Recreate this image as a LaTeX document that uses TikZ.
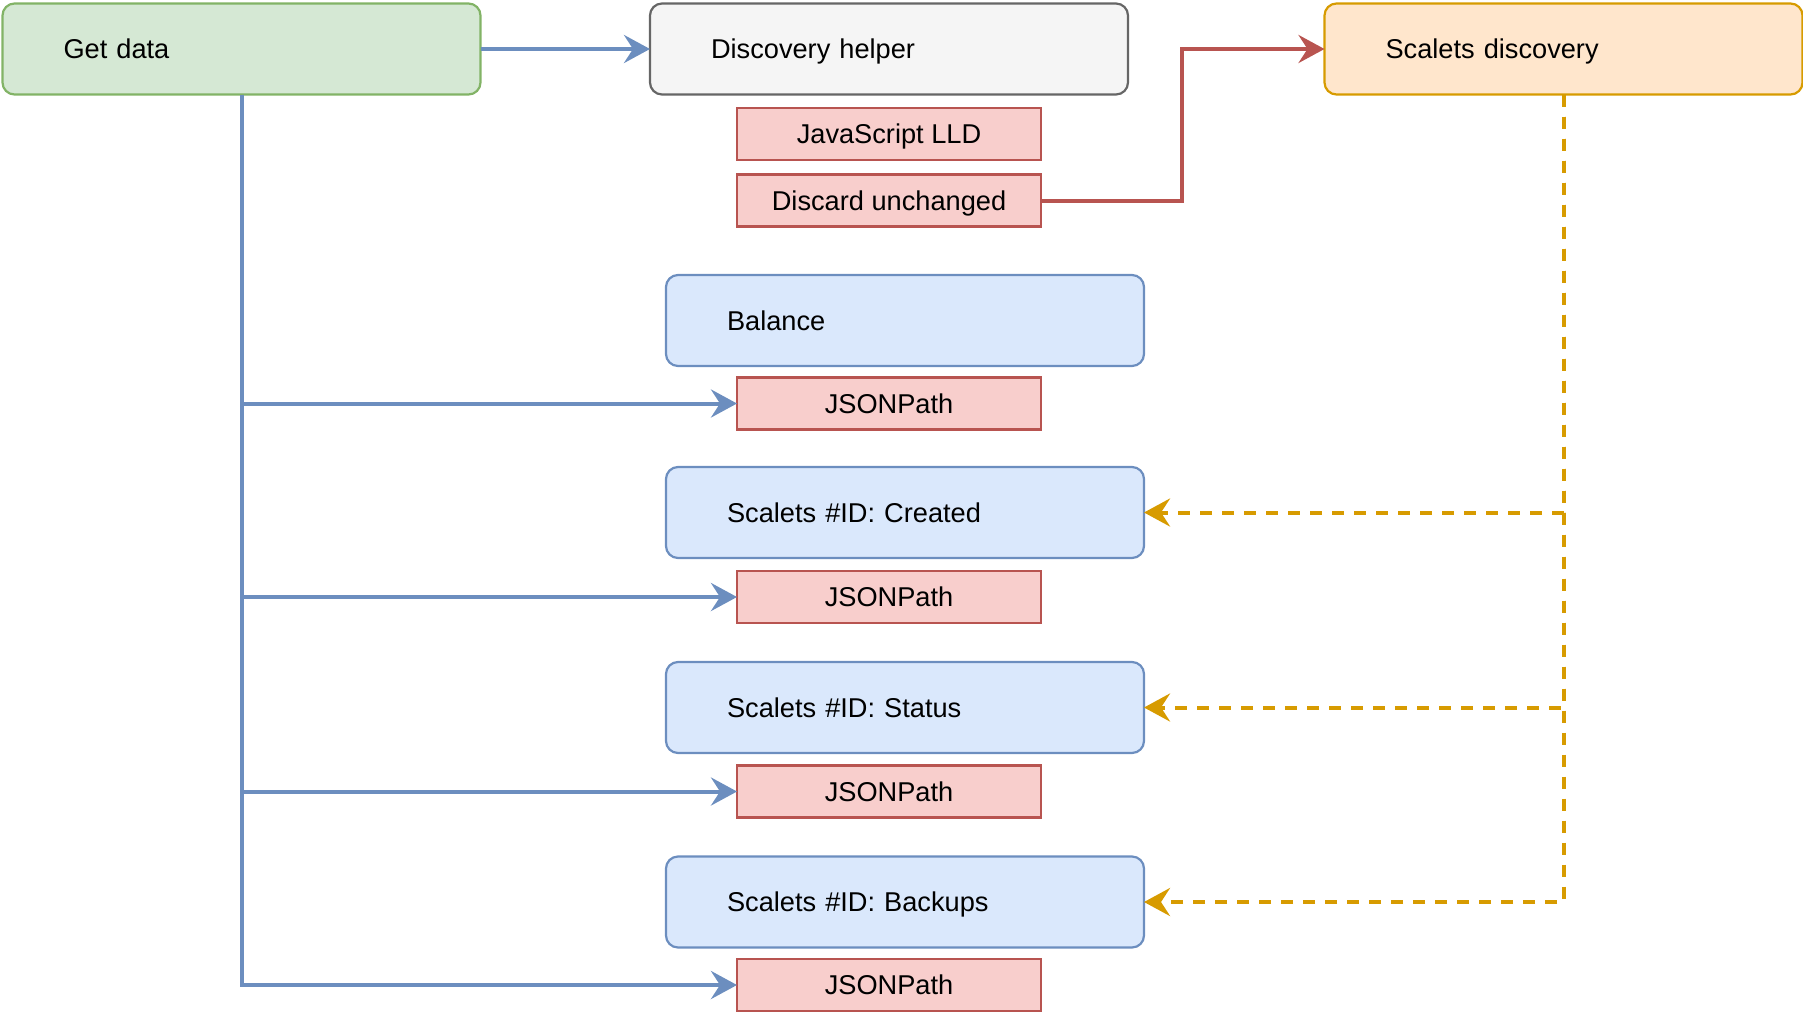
\documentclass[tikz,border=0pt]{standalone}
\usepackage{fontspec}
\setmainfont{Liberation Sans}
\usetikzlibrary{arrows.meta}
\definecolor{gfill}{HTML}{D5E8D4}\definecolor{gline}{HTML}{82B366}
\definecolor{hfill}{HTML}{F5F5F5}\definecolor{hline}{HTML}{666666}
\definecolor{ofill}{HTML}{FFE6CC}\definecolor{oline}{HTML}{D79B00}
\definecolor{bfill}{HTML}{DAE8FC}\definecolor{bline}{HTML}{6C8EBF}
\definecolor{rfill}{HTML}{F8CECC}\definecolor{rline}{HTML}{B85450}
\tikzset{
  bigbox/.style={draw, line width=1.1pt, rounded corners=6pt, minimum height=45.5pt,
    inner xsep=30.5pt, inner ysep=0pt, text width=178pt, align=left,
    text height=9.6pt, text depth=0pt, font=\fontsize{13.6}{15}\selectfont, outer sep=0pt},
  greenbox/.style={bigbox, fill=gfill, draw=gline},
  graybox/.style={bigbox, fill=hfill, draw=hline},
  orangebox/.style={bigbox, fill=ofill, draw=oline},
  bluebox/.style={bigbox, fill=bfill, draw=bline},
  redbox/.style={draw=rline, fill=rfill, line width=1.1pt, minimum width=152pt, minimum height=26pt,
    inner sep=0pt, text height=9.6pt, text depth=0pt, font=\fontsize{13.6}{15}\selectfont, outer sep=0pt},
  tip/.style={-{Stealth[length=13pt,width=14pt,inset=4.5pt]}},
  bluearrow/.style={tip, draw=bline, line width=2pt},
  redarrow/.style={tip, draw=rline, line width=2pt},
  orangearrow/.style={tip, draw=oline, line width=2pt, dash pattern=on 6pt off 5pt},
}
\begin{document}
\begin{tikzpicture}[x=0.5pt,y=-0.5pt]
\useasboundingbox (0,0) rectangle (1803,1012);
\node[greenbox] (get) at (241.5,49) {Get data};
\node[graybox] (helper) at (889,49) {Discovery helper};
\node[orangebox] (sd) at (1563.5,49) {Scalets discovery};
\node[redbox] (js) at (889,134) {JavaScript LLD};
\node[redbox] (disc) at (889,200.5) {Discard unchanged};
\node[bluebox] (bal) at (905,320.5) {Balance};
\node[redbox] (j1) at (889,403.5) {JSONPath};
\node[bluebox] (cre) at (905,512.5) {Scalets \#ID: Created};
\node[redbox] (j2) at (889,597) {JSONPath};
\node[bluebox] (sta) at (905,707.5) {Scalets \#ID: Status};
\node[redbox] (j3) at (889,791.5) {JSONPath};
\node[bluebox] (bak) at (905,902) {Scalets \#ID: Backups};
\node[redbox] (j4) at (889,985) {JSONPath};
\coordinate (rb) at (1182,200.5);
\draw[bluearrow] (get.east) -- (helper.west);
\draw[bluearrow] (get.south) |- (j1.west);
\draw[bluearrow] (get.south) |- (j2.west);
\draw[bluearrow] (get.south) |- (j3.west);
\draw[bluearrow] (get.south) |- (j4.west);
\draw[redarrow] (disc.east) -- (rb) |- (sd.west);
\draw[orangearrow] (sd.south) |- (cre.east);
\draw[orangearrow] (sd.south) |- (sta.east);
\draw[orangearrow] (sd.south) |- (bak.east);
\end{tikzpicture}
\end{document}
